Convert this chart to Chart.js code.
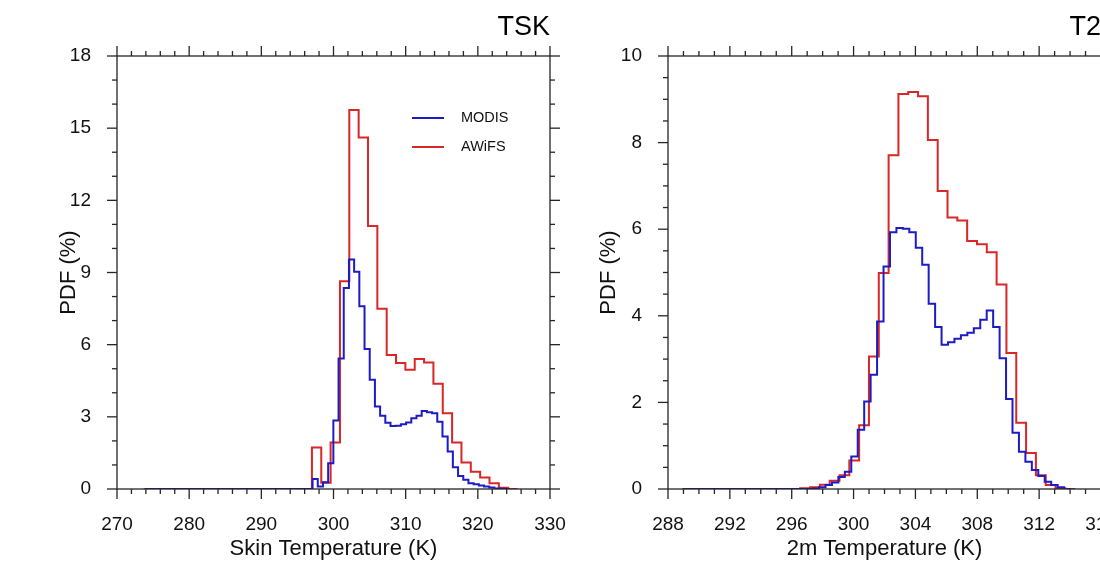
<!DOCTYPE html>
<html><head><meta charset="utf-8">
<script src="https://cdn.jsdelivr.net/npm/chart.js@4/dist/chart.umd.min.js"></script>
<style>
html,body{margin:0;padding:0;background:#fff;width:1100px;height:562px;overflow:hidden;position:relative}
canvas{position:absolute;top:0}
#c1{left:0}
#c2{left:551px}
</style></head><body>
<canvas id="c1" width="600" height="562"></canvas>
<canvas id="c2" width="600" height="562"></canvas>
<script>
// ---------- DATA ----------
const seriesNames = ['MODIS', 'AWiFS'];
// TSK panel: histogram bins (first bin left edge, bin width) and PDF values (%)
const tskModisStart = 274.06, tskModisWidth = 0.72;
const tskModis = [0,0,0,0,0,0,0,0,0,0,0,0,0,0,0,0,0,0,0,0,0,0,0,0,0,0,0,0,0,0,0,0,
  0.42,0.10,0.28,1.07,2.85,5.42,8.36,9.54,9.03,7.60,5.82,4.54,3.43,3.05,2.75,2.62,
  2.63,2.69,2.76,2.94,3.05,3.24,3.19,3.15,2.80,2.18,1.56,0.90,0.54,0.38,0.24,0.20,
  0.15,0.10,0.06,0.02,0.01,0];
const tskAwifsStart = 273.7, tskAwifsWidth = 1.295;
const tskAwifs = [0,0,0,0,0,0,0,0,0,0,0,0,0,0,0,0,0,0,
  1.72,0.26,1.93,8.64,15.76,14.61,10.93,7.49,5.57,5.24,4.96,5.40,5.26,4.38,3.15,
  1.93,1.10,0.72,0.48,0.24,0.05,0];
// T2 panel
const t2ModisStart = 289.01, t2ModisWidth = 0.417;
const t2Modis = [0,0,0,0,0,0,0,0,0,0,0,0,0,0,0,0,0,0,0,0,
  0.01,0.04,0.09,0.15,0.28,0.40,0.75,1.37,2.02,2.64,3.87,5.14,5.93,6.03,6.01,5.93,
  5.57,5.18,4.28,3.74,3.33,3.39,3.47,3.55,3.61,3.71,3.91,4.12,3.74,3.02,2.08,1.30,
  0.86,0.63,0.44,0.30,0.17,0.09,0.04,0];
const t2AwifsStart = 288.93, t2AwifsWidth = 0.635;
const t2Awifs = [0,0,0,0,0,0,0,0,0,0,0,0,
  0.02,0.04,0.10,0.19,0.32,0.66,1.47,3.06,4.99,7.71,9.12,9.17,9.07,8.06,6.88,6.27,
  6.20,5.73,5.65,5.47,4.72,3.14,1.53,0.83,0.32,0.09,0.02,0];
// axes
const tskX = {min:270, max:330, major:10, minor:2};
const tskY = {min:0, max:18, major:3, minor:1};
const t2X = {min:288, max:316, major:4, minor:1};
const t2Y = {min:0, max:10, major:2, minor:0.5};

// ---------- STYLE ----------
const FONT = '"Liberation Sans", Arial, Helvetica, sans-serif';
const COLORS = {MODIS:'#1c1cc4', AWiFS:'#d92626'};
const FRAME = '#262626';

function histPoints(start, width, vals){
  const pts = vals.map((v,i)=>({x:start+i*width, y:v}));
  pts.push({x:start+vals.length*width, y:vals[vals.length-1]});
  return pts;
}

const framePlugin = {
  id:'frameTicks',
  afterDraw(chart, args, o){
    const {ctx, chartArea:a, scales:{x,y}} = chart;
    ctx.save();
    ctx.strokeStyle = FRAME; ctx.lineWidth = 1.3;
    ctx.strokeRect(a.left, a.top, a.right-a.left, a.bottom-a.top);
    const MAJ = 10, MIN = 5;
    const seg = (x1,y1,x2,y2)=>{ctx.beginPath();ctx.moveTo(x1,y1);ctx.lineTo(x2,y2);ctx.stroke();};
    const xs = o.xr, ys = o.yr;
    for (let v = xs.min; v <= xs.max + 1e-9; v += xs.minor){
      const isMaj = Math.abs((v - xs.min)/xs.major - Math.round((v - xs.min)/xs.major)) < 1e-6;
      const L = isMaj ? MAJ : MIN, px = x.getPixelForValue(v);
      seg(px, a.bottom, px, a.bottom + L);
      seg(px, a.top, px, a.top - L);
    }
    for (let v = ys.min; v <= ys.max + 1e-9; v += ys.minor){
      const isMaj = Math.abs((v - ys.min)/ys.major - Math.round((v - ys.min)/ys.major)) < 1e-6;
      const L = isMaj ? MAJ : MIN, py = y.getPixelForValue(v);
      seg(a.left, py, a.left - L, py);
      seg(a.right, py, a.right + L, py);
    }
    // title
    ctx.fillStyle = '#000';
    ctx.font = '27px ' + FONT;
    ctx.textAlign = 'right'; ctx.textBaseline = 'alphabetic';
    ctx.fillText(o.title, a.right, 35);
    // legend
    if (o.legend){
      ctx.font = '14.5px ' + FONT; ctx.textAlign = 'left'; ctx.textBaseline = 'middle';
      chart.data.datasets.forEach((d,i)=>{
        const yy = 118 + i*29;
        ctx.strokeStyle = d.borderColor; ctx.lineWidth = 2;
        seg(412, yy, 444, yy);
        ctx.fillStyle = '#111';
        ctx.fillText(d.label, 461, yy);
      });
    }
    ctx.restore();
  }
};

function makeChart(id, opts){
  return new Chart(document.getElementById(id), {
    type:'line',
    data:{datasets:[
      {label:seriesNames[0], data:histPoints(opts.mStart, opts.mWidth, opts.modis), borderColor:COLORS.MODIS, borderWidth:2, pointRadius:0, stepped:'before', fill:false},
      {label:seriesNames[1], data:histPoints(opts.aStart, opts.aWidth, opts.awifs), borderColor:COLORS.AWiFS, borderWidth:2, pointRadius:0, stepped:'before', fill:false}
    ]},
    options:{
      responsive:false, animation:false, devicePixelRatio:1,
      layout:{padding:{top:56, right:50, left:0, bottom:0}},
      plugins:{legend:{display:false}, tooltip:{enabled:false},
        frameTicks:{xr:opts.xr, yr:opts.yr, title:opts.title, legend:opts.legend}},
      scales:{
        x:{type:'linear', min:opts.xr.min, max:opts.xr.max,
          grid:{display:false}, border:{display:false},
          ticks:{stepSize:opts.xr.major, padding:16, color:'#111', font:{family:FONT, size:19}, maxRotation:0, autoSkip:false},
          title:{display:true, text:opts.xTitle, color:'#111', font:{family:FONT, size:22}, padding:{top:0,bottom:0}},
          afterFit(s){ s.height = 562 - 489; }
        },
        y:{type:'linear', min:opts.yr.min, max:opts.yr.max,
          grid:{display:false}, border:{display:false},
          ticks:{stepSize:opts.yr.major, padding:18, color:'#111', font:{family:FONT, size:19}},
          title:{display:true, text:'PDF (%)', color:'#111', font:{family:FONT, size:22}, padding:{top:opts.yTitlePad, bottom:0}},
          afterFit(s){ s.width = 117; }
        }
      }
    },
    plugins:[framePlugin]
  });
}

makeChart('c1', {mStart:tskModisStart, mWidth:tskModisWidth, modis:tskModis,
  aStart:tskAwifsStart, aWidth:tskAwifsWidth, awifs:tskAwifs,
  xr:tskX, yr:tskY, title:'TSK', legend:true, xTitle:'Skin Temperature (K)', yTitlePad:56});
makeChart('c2', {mStart:t2ModisStart, mWidth:t2ModisWidth, modis:t2Modis,
  aStart:t2AwifsStart, aWidth:t2AwifsWidth, awifs:t2Awifs,
  xr:t2X, yr:t2Y, title:'T2', legend:false, xTitle:'2m Temperature (K)', yTitlePad:45});
</script>
</body></html>
